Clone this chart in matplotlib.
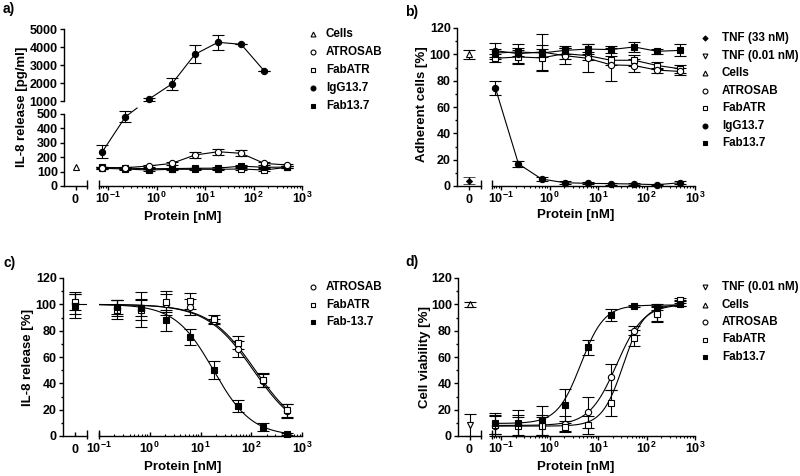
import numpy as np
import matplotlib.pyplot as plt
from matplotlib.lines import Line2D
from matplotlib.ticker import FixedLocator, LogLocator, NullFormatter, FuncFormatter

plt.rcParams['font.family'] = ['Liberation Sans', 'DejaVu Sans']
plt.rcParams['font.weight'] = 'bold'
plt.rcParams['mathtext.fontset'] = 'custom'
plt.rcParams['mathtext.rm'] = 'Liberation Sans:bold'
plt.rcParams['mathtext.bf'] = 'Liberation Sans:bold'
plt.rcParams['mathtext.it'] = 'Liberation Sans:bold'
plt.rcParams['axes.linewidth'] = 1.0

# concentrations (3-fold dilution), nM
conc = [0.0762, 0.2286, 0.686, 2.058, 6.173, 18.52, 55.56, 166.7, 500]

# a) IL-8 release [pg/ml]
a_cells = 134
a_atrosab = [127, 127, 139, 157, 215, 238, 227, 157, 146]
a_atrosab_err = [8, 8, 8, 10, 22, 20, 22, 8, 8]
a_fabatr = [123, 118, 111, 116, 116, 116, 118, 111, 130]
a_fabatr_err = [6, 5, 5, 5, 5, 5, 5, 5, 6]
a_fab137 = [130, 124, 120, 121, 123, 124, 138, 130, 131]
a_fab137_err = [5, 5, 5, 5, 5, 5, 6, 5, 5]
a_igg = [238, 481, 1093, 1944, 3590, 4260, 4150, 2670]
a_igg_err = [45, 37, 70, 330, 500, 420, 0, 0]

# b) adherent cells [%]
b_tnf33, b_tnf33_err = 4, 2.5
b_cells, b_cells_err = 100, 3.5
b_igg = [74.5, 16.8, 5.3, 2.5, 2.0, 1.8, 1.5, 1.0, 2.5]
b_igg_err = [5.5, 2.5, 1.5, 1, 0.8, 0.8, 0.8, 0.5, 1]
b_fab137 = [101, 101.8, 101, 103, 104, 103.6, 105.6, 102.3, 103]
b_fab137_err = [3, 3, 3, 3, 3.5, 2.5, 4, 2, 4.5]
b_atrosab = [102.8, 100.5, 101.8, 99, 97, 92, 91.5, 88, 87]
b_atrosab_err = [6, 7, 14, 6, 10.5, 12.5, 5, 2, 3]
b_fabatr = [97, 98, 97.3, 100.5, 99, 95.5, 95.5, 91.5, 89]
b_fabatr_err = [3, 5, 10, 4, 3, 3.5, 4, 3, 3]

# c) IL-8 release [%]  (no point at the lowest concentration)
c_zero = [101, 101.5, 99]
c_zero_err = [8, 6, 9]
c_atrosab = [97, 96, 100, 98, 87, 66, 42, 19]
c_atrosab_err = [6, 8, 8, 6, 2, 6, 5, 5]
c_fabatr = [96, 96, 102, 102.5, 89, 71, 42.5, 19.5]
c_fabatr_err = [7, 13, 8, 6, 3, 5, 5, 5]
c_fab137 = [98, 97, 88, 75, 50, 23, 6.5, 1.5]
c_fab137_err = [5, 6, 8, 6, 7, 4.5, 3, 1]
c_ic50 = [110, 120, 18]
c_hill = [0.95, 0.95, 1.15]

# d) cell viability [%]
d_tnf001, d_tnf001_err = 8.4, 8.5
d_cells, d_cells_err = 100, 2
d_atrosab = [7.9, 8, 8, 9.4, 18, 45, 80, 92.6, 101]
d_atrosab_err = [8, 8, 8, 6, 12, 10, 3.5, 6, 2]
d_fabatr = [8.4, 7.6, 7.6, 7.1, 8.4, 25, 74.4, 92.6, 103.5]
d_fabatr_err = [7, 7, 7, 3, 7, 10, 6, 5, 1]
d_fab137 = [9.6, 10, 12, 23.6, 67.3, 91.6, 98.7, 98, 100]
d_fab137_err = [8, 10, 11, 12, 5.5, 4.5, 1, 2, 1]
d_bottom = [8, 7.5, 9.5]
d_top = [100, 100, 99.5]
d_ec50 = [24, 33, 4.4]
d_hill = [1.55, 2.0, 1.8]

W, H = 800, 476
fig = plt.figure(figsize=(W / 100, H / 100), dpi=100)

TICK_FS = 9
LAB_FS = 9.5
LEG_FS = 8.4
MS = 4.5

open_circle = dict(marker='o', mfc='white', mec='k', mew=0.8)
open_square = dict(marker='s', mfc='white', mec='k', mew=0.8)
fill_circle = dict(marker='o', mfc='k', mec='k', mew=0.8)
fill_square = dict(marker='s', mfc='k', mec='k', mew=0.8)
open_tri = dict(marker='^', mfc='white', mec='k', mew=0.8)
open_tri_down = dict(marker='v', mfc='white', mec='k', mew=0.8)
fill_diamond = dict(marker='D', mfc='k', mec='k', mew=0.5)


def px_axes(x0, x1, ytop, ybot):
    ax = fig.add_axes([x0 / W, 1 - ybot / H, (x1 - x0) / W, (ybot - ytop) / H])
    ax.patch.set_alpha(0)
    ax.spines['top'].set_visible(False)
    ax.spines['right'].set_visible(False)
    return ax


def style_y(ax, ylim, major, minor=None):
    ax.set_ylim(*ylim)
    ax.set_yticks(major)
    if minor is not None:
        ax.set_yticks(minor, minor=True)
    ax.tick_params(axis='y', which='major', direction='out', length=3, width=1,
                   labelsize=TICK_FS, pad=1.5)
    ax.tick_params(axis='y', which='minor', direction='out', length=1.5, width=1)


def style_x_labels(ax):
    for lab in ax.get_xticklabels():
        lab.set_va('baseline')


def x_pad(tickdir):
    return 9.5 if tickdir == 'out' else 12.5


def style_zero(ax, tickdir):
    ax.set_xlim(-1, 1)
    ax.set_xticks([0])
    ax.set_xticklabels(['0'])
    ax.tick_params(axis='x', direction=tickdir, length=3, width=1,
                   labelsize=TICK_FS, pad=x_pad(tickdir))
    style_x_labels(ax)


def style_log(ax, xlim, ylim, tickdir):
    ax.set_xscale('log')
    ax.set_xlim(*xlim)
    ax.set_ylim(*ylim)
    ax.spines['left'].set_visible(False)
    ax.set_yticks([])
    ax.xaxis.set_major_locator(FixedLocator([0.1, 1, 10, 100, 1000]))
    ax.xaxis.set_major_formatter(
        FuncFormatter(lambda v, p: r'$\mathbf{10^{%d}}$' % round(np.log10(v))))
    ax.xaxis.set_minor_locator(LogLocator(base=10, subs=np.arange(2, 10), numticks=20))
    ax.xaxis.set_minor_formatter(NullFormatter())
    ax.tick_params(axis='x', which='major', direction=tickdir, length=3, width=1,
                   labelsize=TICK_FS, pad=x_pad(tickdir))
    ax.tick_params(axis='x', which='minor', direction=tickdir, length=1.5, width=0.8)
    fig.canvas.draw()
    style_x_labels(ax)


def break_mark(ax, xfrac, up_px=6, down_px=3):
    h = ax.bbox.height
    ax.plot([xfrac, xfrac], [-down_px / h, up_px / h], transform=ax.transAxes,
            color='k', lw=1, clip_on=False, solid_capstyle='butt')


def series(ax, x, y, err, style, line=True, z=3, ms=MS):
    ax.errorbar(x, y, yerr=err, color='k', linestyle='-' if line else 'none',
                lw=0.8, ms=ms, ecolor='k', elinewidth=0.8, capsize=4,
                capthick=0.8, zorder=z, clip_on=False, **style)


def legend(xm, xt, y0, dy, entries):
    for i, (label, style) in enumerate(entries):
        y = 1 - (y0 + i * dy) / H
        ms = 2.8 if style['marker'] == 'D' else 3.5
        fig.add_artist(Line2D([xm / W], [y], transform=fig.transFigure,
                              linestyle='none', ms=ms, **style))
        fig.text(xt / W, y, label, ha='left', va='center', fontsize=LEG_FS,
                 fontweight='bold')


def log_curve(xlim_lo, xmax=500, n=300):
    return np.logspace(np.log10(xlim_lo), np.log10(xmax), n)


def label_text(x, y, s, rot=0, fs=LAB_FS, ha='center'):
    fig.text(x / W, 1 - y / H, s, rotation=rot, ha=ha, va='center',
             fontsize=fs, fontweight='bold')


# ---------------- panel a ----------------
a_xlim = (0.065, 1000)
az_lo = px_axes(64, 87, 114, 186)
al_lo = px_axes(99, 302, 114, 186)
az_hi = px_axes(64, 87, 29, 101)
al_hi = px_axes(99, 302, 29, 101)

style_y(az_lo, (0, 500), [0, 100, 200, 300, 400, 500])
style_zero(az_lo, 'out')
style_log(al_lo, a_xlim, (0, 500), 'out')

style_y(az_hi, (1000, 5000), [1000, 2000, 3000, 4000, 5000])
az_hi.spines['bottom'].set_visible(False)
az_hi.set_xticks([])
al_hi.set_xscale('log')
al_hi.set_xlim(*a_xlim)
al_hi.set_ylim(1000, 5000)
al_hi.axis('off')

az_lo.errorbar([0], [a_cells], color='k', linestyle='none', ms=MS, **open_tri)
series(al_lo, conc, a_fabatr, a_fabatr_err, open_square)
series(al_lo, conc, a_fab137, a_fab137_err, fill_square)
series(al_lo, conc, a_atrosab, a_atrosab_err, open_circle, z=4)
series(al_lo, conc[:2], a_igg[:2], a_igg_err[:2], fill_circle, z=5)
series(al_hi, conc[2:8], a_igg[2:], a_igg_err[2:], fill_circle, z=5)

# stub of the IgG line leaving the lower segment towards the upper one
fig.canvas.draw()
p0 = al_lo.transData.transform((conc[1], a_igg[1]))
p1 = al_hi.transData.transform((conc[2], a_igg[2]))
y_end = al_lo.bbox.y1 + 6
t = (y_end - p0[1]) / (p1[1] - p0[1])
pe = p0 + t * (p1 - p0)
fig.add_artist(Line2D([p0[0], pe[0]], [p0[1], pe[1]], transform=None,
                      color='k', lw=0.8))

break_mark(az_lo, 1)
break_mark(al_lo, 0)

label_text(22, 107, 'IL-8 release [pg/ml]', rot=90)
label_text(183, 217, 'Protein [nM]')
label_text(3, 9, 'a)', fs=10, ha='left')
legend(313, 326, 34, 18, [('Cells', open_tri), ('ATROSAB', open_circle),
                          ('FabATR', open_square), ('IgG13.7', fill_circle),
                          ('Fab13.7', fill_square)])

# ---------------- panel b ----------------
b_xlim = (0.065, 1000)
bz = px_axes(457, 481, 28, 186)
bl = px_axes(492, 695, 28, 186)
style_y(bz, (0, 120), [0, 20, 40, 60, 80, 100, 120], [10, 30, 50, 70, 90, 110])
style_zero(bz, 'out')
style_log(bl, b_xlim, (0, 120), 'out')

series(bz, [0], [b_tnf33], [b_tnf33_err], fill_diamond, line=False, ms=3.2)
series(bz, [0], [b_cells], [b_cells_err], open_tri, line=False)
series(bl, conc, b_fabatr, b_fabatr_err, open_square)
series(bl, conc, b_atrosab, b_atrosab_err, open_circle)
series(bl, conc, b_fab137, b_fab137_err, fill_square, z=4)
series(bl, conc, b_igg, b_igg_err, fill_circle, z=4)
break_mark(bz, 1)
break_mark(bl, 0)

label_text(422, 104, 'Adherent cells [%]', rot=90)
label_text(576, 215, 'Protein [nM]')
label_text(405, 12, 'b)', fs=10, ha='left')
legend(705, 722, 38, 17.5, [('TNF (33 nM)', fill_diamond),
                            ('TNF (0.01 nM)', open_tri_down),
                            ('Cells', open_tri), ('ATROSAB', open_circle),
                            ('FabATR', open_square), ('IgG13.7', fill_circle),
                            ('Fab13.7', fill_square)])

# ---------------- panel c ----------------
c_xlim = (0.1, 1000)
cz = px_axes(63, 87, 278, 436)
cl = px_axes(99, 302, 278, 436)
style_y(cz, (0, 120), [0, 20, 40, 60, 80, 100, 120], [10, 30, 50, 70, 90, 110])
style_zero(cz, 'in')
style_log(cl, c_xlim, (0, 120), 'in')

cz.plot([0, 1], [100, 100], color='k', lw=0.8)
c_styles = [open_circle, open_square, fill_square]
c_sets = [(c_atrosab, c_atrosab_err), (c_fabatr, c_fabatr_err), (c_fab137, c_fab137_err)]
xc = log_curve(c_xlim[0])
for i, (vals, errs) in enumerate(c_sets):
    cl.plot(xc, 100 / (1 + (xc / c_ic50[i]) ** c_hill[i]), color='k', lw=0.8, zorder=2)
    series(cl, conc[1:], vals, errs, c_styles[i], line=False, z=3 + (i == 2))
    series(cz, [0], [c_zero[i]], [c_zero_err[i]], c_styles[i], line=False)
break_mark(cz, 1)
break_mark(cl, 0)

label_text(28, 357, 'IL-8 release [%]', rot=90)
label_text(183, 467, 'Protein [nM]')
label_text(4, 263, 'c)', fs=10, ha='left')
legend(313, 326, 287, 17.5, [('ATROSAB', open_circle), ('FabATR', open_square),
                             ('Fab-13.7', fill_square)])

# ---------------- panel d ----------------
d_xlim = (0.065, 1000)
dz = px_axes(458, 481, 278, 436)
dl = px_axes(492, 695, 278, 436)
style_y(dz, (0, 120), [0, 20, 40, 60, 80, 100, 120], [10, 30, 50, 70, 90, 110])
style_zero(dz, 'out')
style_log(dl, d_xlim, (0, 120), 'out')

series(dz, [0], [d_tnf001], [d_tnf001_err], open_tri_down, line=False)
series(dz, [0], [d_cells], [d_cells_err], open_tri, line=False)
d_styles = [open_circle, open_square, fill_square]
d_sets = [(d_atrosab, d_atrosab_err), (d_fabatr, d_fabatr_err), (d_fab137, d_fab137_err)]
xd = log_curve(d_xlim[0])
for i, (vals, errs) in enumerate(d_sets):
    yd = d_bottom[i] + (d_top[i] - d_bottom[i]) / (1 + (d_ec50[i] / xd) ** d_hill[i])
    dl.plot(xd, yd, color='k', lw=0.8, zorder=2)
    series(dl, conc, vals, errs, d_styles[i], line=False, z=3 + (i == 2))
break_mark(dz, 1)
break_mark(dl, 0)

label_text(425, 357, 'Cell viability [%]', rot=90)
label_text(576, 467, 'Protein [nM]')
label_text(405, 262, 'd)', fs=10, ha='left')
legend(705, 722, 287, 17.5, [('TNF (0.01 nM)', open_tri_down), ('Cells', open_tri),
                             ('ATROSAB', open_circle), ('FabATR', open_square),
                             ('Fab13.7', fill_square)])

fig.savefig('out.png', dpi=100)
